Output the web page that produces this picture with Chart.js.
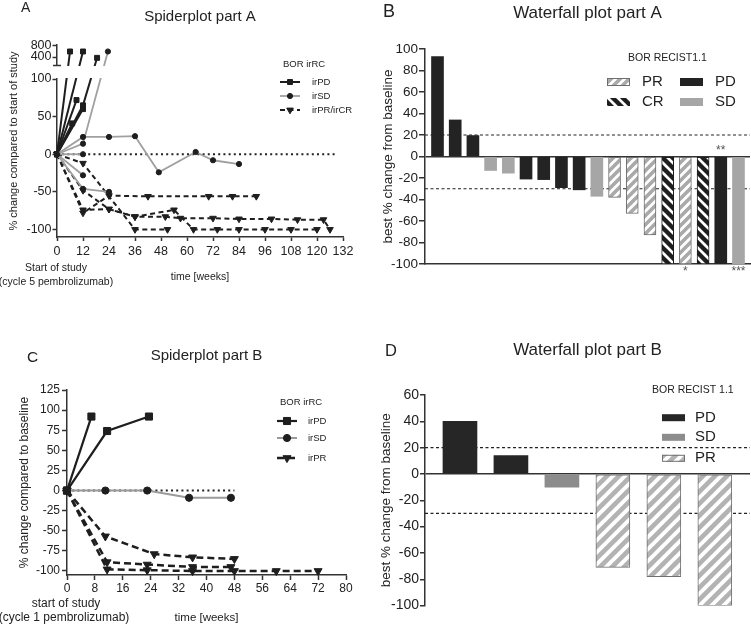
<!DOCTYPE html>
<html><head><meta charset="utf-8">
<script src="https://cdn.jsdelivr.net/npm/chart.js@4.4.1/dist/chart.umd.min.js"></script>
<style>
html,body{margin:0;padding:0;background:#fff;}
#wrap{position:relative;width:751px;height:625px;overflow:hidden;background:#fff;}
canvas{position:absolute;}
</style></head><body>
<div id="wrap">
<canvas id="cA" style="left:0;top:0" width="375" height="312"></canvas>
<canvas id="cB" style="left:375px;top:0" width="376" height="312"></canvas>
<canvas id="cC" style="left:0;top:312px" width="375" height="313"></canvas>
<canvas id="cD" style="left:375px;top:312px" width="376" height="313"></canvas>
</div>
<script>
// ---------------- DATA ----------------
// Spiderplot part A: one array of [week, % change] per patient
const spiderA_irPD = [
  [[0,0],[6,600]],
  [[0,0],[12,600]],
  [[0,0],[12,65],[18.5,370]],
  [[0,0],[9,72]],
  [[0,0],[12,60]],
  [[0,0],[7,41]]
];
const spiderA_irSD = [
  [[0,0],[12,23],[24,23],[36,24],[47,-24],[64,3],[72,-8],[84,-13]],
  [[0,0],[12,14],[23.5,600]],
  [[0,0],[12,0]],
  [[0,0],[12,-46],[24,-50]],
  [[0,0],[12,-28]]
];
const spiderA_irPRCR = [
  [[0,0],[12,-12],[36,-100],[51,-100]],
  [[0,0],[12,-78],[24,-55],[42,-56],[70,-56],[81,-56],[92,-56]],
  [[0,0],[12,-48],[24,-73],[36,-83],[54,-74],[63,-100],[74,-100],[84,-100],[96,-100],[108,-100],[120,-100]],
  [[0,0],[12,-74],[24,-73],[36,-83],[50,-83],[57,-85],[72,-85],[84,-86],[99,-86],[111,-87],[123,-87],[126,-100]]
];
const spiderA_xTicks = [0,12,24,36,48,60,72,84,96,108,120,132];
const spiderA_yTicks = [-100,-50,0,50,100,400,800];

// Spiderplot part B
const spiderB_irPD = [
  [[0,0],[7,92]],
  [[0,0],[11.5,74],[23.5,92]]
];
const spiderB_irSD = [
  [[0,0],[11,0],[23,0],[35,-9],[47,-9]]
];
const spiderB_irPR = [
  [[0,0],[11,-57],[25,-79],[36,-83],[48,-85]],
  [[0,0],[11.5,-89],[23,-92],[36,-95],[47,-95]],
  [[0,0],[11.5,-98],[23,-99],[36,-100],[48,-100],[60,-100],[72,-100]]
];
const spiderB_xTicks = [0,8,16,24,32,40,48,56,64,72,80];
const spiderB_yTicks = [-100,-75,-50,-25,0,25,50,75,100,125];

// Waterfall plot part A
const waterfallA_values = [93,34,19.5,-13,-15.5,-21,-21.5,-29,-31,-37,-38,-53,-73,-100,-100,-100,-100,-100];
const waterfallA_bor = ['PD','PD','PD','SD','SD','PD','PD','PD','PD','SD','PR','PR','PR','CR','PR','CR','PD','SD'];
const waterfallA_notes = ['','','','','','','','','','','','','','','*','','**','***'];
const waterfallA_yTicks = [-100,-80,-60,-40,-20,0,20,40,60,80,100];

// Waterfall plot part B
const waterfallB_values = [40,14,-10,-71,-78,-100];
const waterfallB_bor = ['PD','PD','SD','PR','PR','PR'];
const waterfallB_yTicks = [-100,-80,-60,-40,-20,0,20,40,60];

const recistThresholds = [20,-30];

// ---------------- HELPERS ----------------
const FONT = "'Liberation Sans', Arial, Helvetica, sans-serif";
const INK = '#222';
const AXIS = '#333';
Chart.defaults.font.family = FONT;
Chart.defaults.color = INK;

function drawText(ctx, s, x, y, size, align, color) {
  ctx.save();
  ctx.font = size + 'px ' + FONT;
  ctx.fillStyle = color || INK;
  ctx.textAlign = align || 'left';
  ctx.textBaseline = 'middle';
  ctx.fillText(s, x, y);
  ctx.restore();
}
function hatch(bg, fg, size, lw, dir) {
  const c = document.createElement('canvas');
  c.width = c.height = size;
  const x = c.getContext('2d');
  x.fillStyle = bg; x.fillRect(0, 0, size, size);
  x.strokeStyle = fg; x.lineWidth = lw; x.lineCap = 'square';
  x.beginPath();
  for (let k = -1; k <= 1; k++) {
    if (dir === '/') { x.moveTo(k*size, size); x.lineTo(k*size + size, 0); }
    else { x.moveTo(k*size, 0); x.lineTo(k*size + size, size); }
  }
  x.stroke();
  return x.createPattern(c, 'repeat');
}
function spiderKey(ctx, x1, x2, y, st) {
  ctx.save();
  ctx.strokeStyle = st.borderColor; ctx.lineWidth = st.borderWidth;
  ctx.setLineDash(st.borderDash || []);
  ctx.beginPath(); ctx.moveTo(x1, y); ctx.lineTo(x2, y); ctx.stroke();
  ctx.setLineDash([]);
  ctx.fillStyle = st.pointBackgroundColor; ctx.strokeStyle = st.pointBorderColor; ctx.lineWidth = 1;
  Chart.helpers.drawPoint(ctx, {pointStyle: st.pointStyle, radius: st.pointRadius, rotation: st.pointRotation || 0, borderWidth: 1}, (x1+x2)/2, y);
  ctx.restore();
}
function boxKey(ctx, x, y, w, h, fill, border) {
  ctx.save();
  ctx.fillStyle = fill; ctx.fillRect(x, y - h/2, w, h);
  if (border) { ctx.strokeStyle = border; ctx.lineWidth = 1; ctx.strokeRect(x + 0.5, y - h/2 + 0.5, w - 1, h - 1); }
  ctx.restore();
}
function spiderSets(patients, st) {
  return patients.map(p => Object.assign({
    type: 'line', data: p.map(([x, y]) => ({x, y})),
    fill: false, tension: 0, clip: false, pointBorderWidth: 1, pointHoverRadius: 0
  }, st));
}
const fixTicks = list => (s => { s.ticks = list.map(v => ({value: v})); });

// broken y axis for spider A (values 100..110 fall in the gap)
const BRK = {low: 100, high: 110, upperPx: 20, gapPx: 14};
class BrokenLinearScale extends Chart.LinearScale {
  getPixelForValue(value) {
    const top = this.top, bottom = this.bottom;
    const lowerTop = top + BRK.upperPx + BRK.gapPx;
    if (value <= BRK.low) return bottom - (value - this.min) / (BRK.low - this.min) * (bottom - lowerTop);
    if (value >= BRK.high) return top + BRK.upperPx - (value - BRK.high) / (this.max - BRK.high) * BRK.upperPx;
    return lowerTop - (value - BRK.low) / (BRK.high - BRK.low) * BRK.gapPx;
  }
  getValueForPixel(pixel) {
    const top = this.top, bottom = this.bottom;
    const lowerTop = top + BRK.upperPx + BRK.gapPx;
    if (pixel >= lowerTop) return this.min + (bottom - pixel) / (bottom - lowerTop) * (BRK.low - this.min);
    if (pixel <= top + BRK.upperPx) return BRK.high + (top + BRK.upperPx - pixel) / BRK.upperPx * (this.max - BRK.high);
    return BRK.low + (lowerTop - pixel) / BRK.gapPx * (BRK.high - BRK.low);
  }
}
BrokenLinearScale.id = 'brokenLinear';
BrokenLinearScale.defaults = Chart.LinearScale.defaults;
Chart.register(BrokenLinearScale);

// styles
const stA = {
  irPD: {borderColor:'#1e1e1e', borderWidth:2, borderDash:[], pointStyle:'rect', pointRadius:3.5, pointBackgroundColor:'#1e1e1e', pointBorderColor:'#1e1e1e'},
  irSD: {borderColor:'#a0a0a0', borderWidth:1.8, borderDash:[], pointStyle:'circle', pointRadius:2.6, pointBackgroundColor:'#1e1e1e', pointBorderColor:'#1e1e1e'},
  irPR: {borderColor:'#1e1e1e', borderWidth:2, borderDash:[5,3.5], pointStyle:'triangle', pointRotation:180, pointRadius:3.8, pointBackgroundColor:'#1e1e1e', pointBorderColor:'#1e1e1e'}
};
const stC = {
  irPD: {borderColor:'#1e1e1e', borderWidth:2.2, borderDash:[], pointStyle:'rect', pointRadius:5, pointBackgroundColor:'#1e1e1e', pointBorderColor:'#1e1e1e'},
  irSD: {borderColor:'#9a9a9a', borderWidth:2, borderDash:[], pointStyle:'circle', pointRadius:3.6, pointBackgroundColor:'#1e1e1e', pointBorderColor:'#1e1e1e'},
  irPR: {borderColor:'#1e1e1e', borderWidth:2.5, borderDash:[7,4], pointStyle:'triangle', pointRotation:180, pointRadius:4.6, pointBackgroundColor:'#1e1e1e', pointBorderColor:'#1e1e1e'}
};
const zeroLine = (xEnd) => ({type:'line', data:[{x:0,y:0},{x:xEnd,y:0}], borderColor:'#222', borderWidth:2, borderDash:[2,3.2], pointRadius:0, clip:false, order:20});

function yAxis(opts) {
  return Object.assign({
    ticks: {autoSkip:false, font:{size:opts.fs}, color:INK, padding:opts.pad},
    grid: {display:true, drawOnChartArea:false, drawTicks:true, tickLength:opts.tl, tickColor:AXIS, tickWidth:1.5},
    border: {display:true, color:AXIS, width:1.5},
    title: {display:true, text:opts.title, font:{size:opts.tfs}, color:INK, padding:{top:opts.tpad, bottom:0}},
    afterBuildTicks: fixTicks(opts.list),
    afterFit: s => { s.width = opts.w; }
  }, opts.extra || {});
}
const baseOpts = {responsive:false, animation:false, devicePixelRatio:1, events:[]};

// ---------------- PANEL A ----------------
const extrasA = {
  id: 'extrasA',
  afterDatasetsDraw(chart) {
    const ctx = chart.ctx, y = chart.scales.y, ca = chart.chartArea;
    const gTop = y.getPixelForValue(BRK.high), gBot = y.getPixelForValue(BRK.low);
    ctx.save();
    ctx.fillStyle = '#fff';
    ctx.fillRect(ca.left - 1.5, gTop + 1, 100, gBot - gTop - 2);
    ctx.strokeStyle = AXIS; ctx.lineWidth = 1.5;
    ctx.beginPath(); ctx.moveTo(ca.left - 4, gTop + 0.5); ctx.lineTo(ca.left + 4, gTop + 0.5); ctx.stroke();
    ctx.restore();
  },
  afterDraw(chart) {
    const ctx = chart.ctx;
    drawText(ctx, 'A', 21, 8, 14);
    drawText(ctx, 'Start of study', 56, 268, 10.5, 'center');
    drawText(ctx, '(cycle 5 pembrolizumab)', 56, 282, 10.5, 'center');
    drawText(ctx, 'BOR irRC', 283, 64, 9.5);
    spiderKey(ctx, 280, 300, 82, stA.irPD); drawText(ctx, 'irPD', 312, 82, 9.5);
    spiderKey(ctx, 280, 300, 96, stA.irSD); drawText(ctx, 'irSD', 312, 96, 9.5);
    spiderKey(ctx, 280, 300, 110, stA.irPR); drawText(ctx, 'irPR/irCR', 312, 110, 9.5);
  }
};
new Chart(document.getElementById('cA'), {
  type: 'line',
  data: {datasets: [zeroLine(129)]
    .concat(spiderSets(spiderA_irSD, stA.irSD))
    .concat(spiderSets(spiderA_irPRCR, stA.irPR))
    .concat(spiderSets(spiderA_irPD, stA.irPD))},
  options: Object.assign({}, baseOpts, {
    layout: {padding: {left:0, right:32, top:0, bottom:0}},
    plugins: {legend:{display:false}, tooltip:{enabled:false},
      title: {display:true, text:'Spiderplot part A', fullSize:false, color:INK, font:{size:15, weight:'normal'}, padding:{top:8, bottom:19}}},
    scales: {
      x: {type:'linear', min:0, max:132, offset:false,
        ticks:{autoSkip:false, maxRotation:0, font:{size:12.5}, color:INK, padding:3},
        grid:{display:true, offset:false, drawOnChartArea:false, drawTicks:true, tickLength:4, tickColor:AXIS, tickWidth:1.5},
        border:{display:true, color:AXIS, width:1.5},
        title:{display:true, text:'time [weeks]', font:{size:10.5}, color:INK, padding:{top:0, bottom:28.7}},
        afterBuildTicks: fixTicks(spiderA_xTicks),
        afterFit: s => { s.height = 75; }},
      y: yAxis({fs:12.5, pad:1, tl:4.5, title:'% change compared to start of study', tfs:11, tpad:7.4, list:spiderA_yTicks, w:57,
        extra:{type:'brokenLinear', min:-110, max:836}})
    }
  }),
  plugins: [extrasA]
});

// ---------------- PANEL B (Waterfall A) ----------------
const patB = {
  PR: hatch('#ffffff', '#a9a9a9', 9, 3.6, '/'),
  CR: hatch('#ffffff', '#1e1e1e', 10, 4.4, '\\')
};
const fillB = {PD:'#232323', SD:'#a6a6a6', PR:patB.PR, CR:patB.CR};
const edgeB = {PD:'#232323', SD:'#a6a6a6', PR:'#6e6e6e', CR:'#1e1e1e'};
const XB = {min:0.294, max:18.65};
const extrasB = {
  id: 'extrasB',
  afterDraw(chart) {
    const ctx = chart.ctx, x = chart.scales.x, y = chart.scales.y;
    drawText(ctx, 'B', 8, 12, 18);
    drawText(ctx, 'BOR RECIST1.1', 253, 58, 10.5);
    boxKey(ctx, 232, 82, 23, 8, patB.PR, '#6e6e6e'); drawText(ctx, 'PR', 267, 82, 15);
    boxKey(ctx, 305, 82, 23, 8, '#232323'); drawText(ctx, 'PD', 340, 82, 15);
    boxKey(ctx, 232, 102, 23, 8, patB.CR); drawText(ctx, 'CR', 267, 102, 15);
    boxKey(ctx, 305, 102, 23, 8, '#a6a6a6'); drawText(ctx, 'SD', 340, 102, 15);
    waterfallA_notes.forEach((n, i) => {
      if (!n) return;
      const px = x.getPixelForValue(i + 1);
      const v = waterfallA_values[i];
      const py = (n === '**') ? y.getPixelForValue(0) - 6 : y.getPixelForValue(v) + 8;
      drawText(ctx, n, px, py, 12, 'center', '#555');
    });
  }
};
const thrSets = (xmin, xmax) => recistThresholds.map(t => ({
  type:'line', data:[{x:xmin,y:t},{x:xmax,y:t}], borderColor:'#222', borderWidth:1.2, borderDash:[3,2.5],
  pointRadius:0, clip:false, order:5
}));
new Chart(document.getElementById('cB'), {
  type: 'bar',
  data: {datasets: [{
      type:'bar', order:1,
      data: waterfallA_values.map((v, i) => ({x: i + 1, y: v})),
      backgroundColor: waterfallA_bor.map(b => fillB[b]),
      borderColor: waterfallA_bor.map(b => edgeB[b]),
      borderWidth: waterfallA_bor.map(b => (b === 'PR' || b === 'CR') ? 1 : 0),
      borderSkipped: false, barThickness: 12
    }].concat(thrSets(XB.min, XB.max))},
  options: Object.assign({}, baseOpts, {
    layout: {padding: {left:0, right:1, top:0, bottom:0}},
    plugins: {legend:{display:false}, tooltip:{enabled:false},
      title: {display:true, text:'Waterfall plot part A', fullSize:false, color:INK, font:{size:17, weight:'normal'}, padding:{top:2.8, bottom:25.8}}},
    scales: {
      x: {type:'linear', min:XB.min, max:XB.max, offset:false, ticks:{display:false}, grid:{display:false, offset:false},
        border:{display:true, color:AXIS, width:1.5}, afterFit: s => { s.height = 48; }},
      y: yAxis({fs:13.5, pad:1, tl:6, title:'best % change from baseline', tfs:13.5, tpad:4.9, list:waterfallA_yTicks, w:50,
        extra:{type:'linear', min:-100, max:100,
          grid:{display:true, drawOnChartArea:true, drawTicks:true, tickLength:6, tickColor:AXIS, tickWidth:1.5, lineWidth:1.5,
            color: c => (c.tick && c.tick.value === 0) ? AXIS : 'rgba(0,0,0,0)'}}})
    }
  }),
  plugins: [extrasB]
});

// ---------------- PANEL C ----------------
const extrasC = {
  id: 'extrasC',
  afterDraw(chart) {
    const ctx = chart.ctx;
    drawText(ctx, 'C', 27, 45.5, 15.5);
    drawText(ctx, 'start of study', 66, 292, 12, 'center');
    drawText(ctx, '(cycle 1 pembrolizumab)', 64, 306, 12, 'center');
    drawText(ctx, 'BOR irRC', 280, 90, 9.5);
    spiderKey(ctx, 277, 297, 109, stC.irPD); drawText(ctx, 'irPD', 308, 109, 9.5);
    spiderKey(ctx, 277, 297, 126, stC.irSD); drawText(ctx, 'irSD', 308, 126, 9.5);
    spiderKey(ctx, 277, 297, 146, stC.irPR); drawText(ctx, 'irPR', 308, 146, 9.5);
  }
};
new Chart(document.getElementById('cC'), {
  type: 'line',
  data: {datasets: [zeroLine(48)]
    .concat(spiderSets(spiderB_irSD, stC.irSD))
    .concat(spiderSets(spiderB_irPR, stC.irPR))
    .concat(spiderSets(spiderB_irPD, stC.irPD))},
  options: Object.assign({}, baseOpts, {
    layout: {padding: {left:0, right:29, top:0, bottom:0}},
    plugins: {legend:{display:false}, tooltip:{enabled:false},
      title: {display:true, text:'Spiderplot part B', fullSize:false, color:INK, font:{size:15, weight:'normal'}, padding:{top:35, bottom:25}}},
    scales: {
      x: {type:'linear', min:0, max:80, offset:false,
        ticks:{autoSkip:false, maxRotation:0, font:{size:12}, color:INK, padding:1.5},
        grid:{display:true, offset:false, drawOnChartArea:false, drawTicks:true, tickLength:5, tickColor:AXIS, tickWidth:1.5},
        border:{display:true, color:AXIS, width:1.5},
        title:{display:true, text:'time [weeks]', font:{size:11.5}, color:INK, padding:{top:0, bottom:0}},
        afterBuildTicks: fixTicks(spiderB_xTicks),
        afterFit: s => { s.height = 50; }},
      y: yAxis({fs:12, pad:2, tl:5, title:'% change compared to baseline', tfs:12, tpad:17.8, list:spiderB_yTicks, w:67,
        extra:{type:'linear', min:-105, max:125}})
    }
  }),
  plugins: [extrasC]
});

// ---------------- PANEL D (Waterfall B) ----------------
const patD = {PR: hatch('#ffffff', '#b3b3b3', 12, 4.6, '/')};
const fillD = {PD:'#262626', SD:'#8c8c8c', PR:patD.PR};
const edgeD = {PD:'#262626', SD:'#8c8c8c', PR:'#707070'};
const XD = {min:0.314, max:6.69};
const extrasD = {
  id: 'extrasD',
  afterDraw(chart) {
    const ctx = chart.ctx;
    drawText(ctx, 'D', 10, 39, 16.5);
    drawText(ctx, 'BOR RECIST 1.1', 277, 78, 10.5);
    boxKey(ctx, 287, 105.7, 23, 7, '#262626'); drawText(ctx, 'PD', 320, 105.7, 15);
    boxKey(ctx, 287, 125.3, 23, 7, '#8c8c8c'); drawText(ctx, 'SD', 320, 125.3, 15);
    boxKey(ctx, 287, 146.3, 23, 7, patD.PR, '#707070'); drawText(ctx, 'PR', 320, 146.3, 15);
  }
};
new Chart(document.getElementById('cD'), {
  type: 'bar',
  data: {datasets: [{
      type:'bar', order:1,
      data: waterfallB_values.map((v, i) => ({x: i + 1, y: v})),
      backgroundColor: waterfallB_bor.map(b => fillD[b]),
      borderColor: waterfallB_bor.map(b => edgeD[b]),
      borderWidth: waterfallB_bor.map(b => b === 'PR' ? 1 : 0),
      borderSkipped: false, barThickness: 34
    }].concat(thrSets(XD.min, XD.max))},
  options: Object.assign({}, baseOpts, {
    layout: {padding: {left:0, right:1, top:0, bottom:0}},
    plugins: {legend:{display:false}, tooltip:{enabled:false},
      title: {display:true, text:'Waterfall plot part B', fullSize:false, color:INK, font:{size:17, weight:'normal'}, padding:{top:27.8, bottom:34.8}}},
    scales: {
      x: {type:'linear', min:XD.min, max:XD.max, offset:false, ticks:{display:false}, grid:{display:false, offset:false},
        border:{display:false}, afterFit: s => { s.height = 19.4; }},
      y: yAxis({fs:14, pad:1, tl:5, title:'best % change from baseline', tfs:13.5, tpad:2.9, list:waterfallB_yTicks, w:50,
        extra:{type:'linear', min:-100, max:60,
          grid:{display:true, drawOnChartArea:true, drawTicks:true, tickLength:5, tickColor:AXIS, tickWidth:1.5, lineWidth:1.5,
            color: c => (c.tick && c.tick.value === 0) ? AXIS : 'rgba(0,0,0,0)'}}})
    }
  }),
  plugins: [extrasD]
});
</script>
</body></html>
